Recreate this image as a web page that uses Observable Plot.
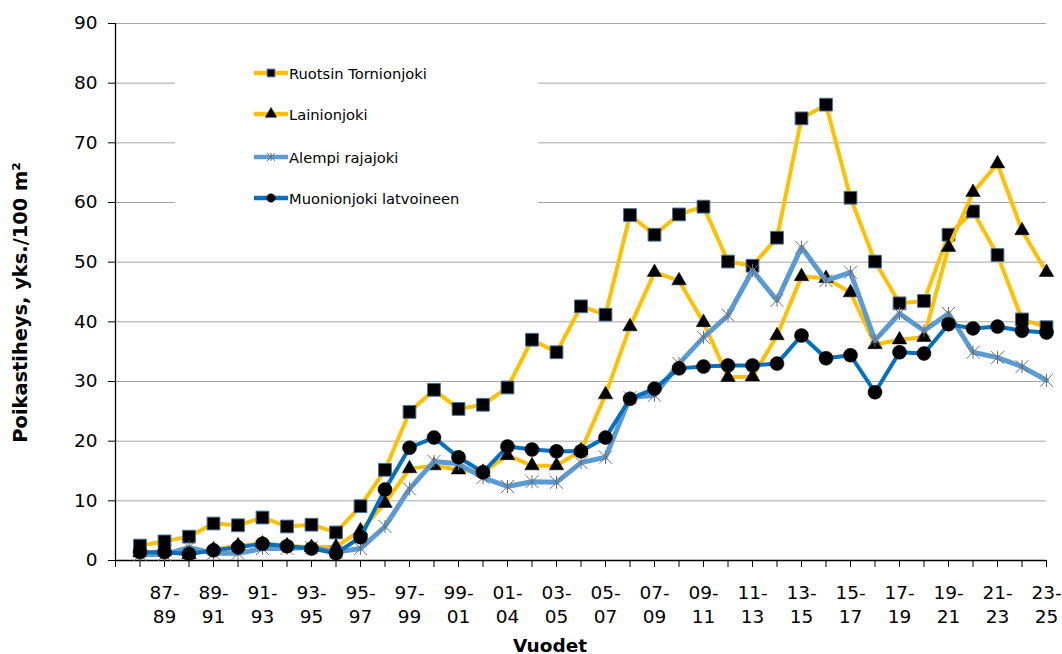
<!DOCTYPE html>
<html><head><meta charset="utf-8">
<script src="https://cdn.jsdelivr.net/npm/d3@7"></script>
<script src="https://cdn.jsdelivr.net/npm/@observablehq/plot@0.6"></script>
<style>
html,body{margin:0;background:#fff;overflow:hidden;}
#wrap{position:relative;width:1062px;height:654px;overflow:hidden;font-family:"DejaVu Sans",Verdana,sans-serif;}
#chart svg{display:block;max-width:none !important;}
#legend{position:absolute;left:175px;top:50px;width:363px;height:175px;background:#fff;}
.item{position:absolute;left:79px;height:20px;display:flex;align-items:center;font-size:14.7px;color:#000;white-space:nowrap;}
.item svg{display:block;margin-right:1px}
</style></head><body><div id="wrap"><div id="chart"></div><div id="legend"></div></div>
<script>
// ---- data ----
const categories = ["86-88","87-89","88-90","89-91","90-92","91-93","92-94","93-95","94-96","95-97","96-98","97-99","98-00","99-01","00-02","01-04","02-04","03-05","04-06","05-07","06-08","07-09","08-10","09-11","10-12","11-13","12-14","13-15","14-16","15-17","16-18","17-19","18-20","19-21","20-22","21-23","22-24","23-25"];
const tickLabels = ["87-89","89-91","91-93","93-95","95-97","97-99","99-01","01-04","03-05","05-07","07-09","09-11","11-13","13-15","15-17","17-19","19-21","21-23","23-25"];
const seriesNames = ["Ruotsin Tornionjoki","Lainionjoki","Alempi rajajoki","Muonionjoki latvoineen"];
const ruotsi = [2.5,3.2,4.0,6.2,5.9,7.2,5.7,6.0,4.7,9.1,15.2,24.9,28.6,25.4,26.1,29.0,37.0,34.9,42.6,41.2,57.9,54.6,58.0,59.3,50.1,49.4,54.1,74.1,76.4,60.8,50.1,43.1,43.5,54.6,58.5,51.2,40.4,39.1];
const lainio = [1.3,1.5,1.0,1.8,2.5,2.8,2.5,2.2,2.3,5.0,9.6,15.4,15.9,15.2,14.8,17.6,15.9,15.9,18.4,27.8,39.2,48.3,46.9,39.9,30.7,30.8,37.7,47.6,47.3,44.9,36.2,37.0,37.4,52.5,61.7,66.5,55.3,48.3];
const alempi = [1.0,1.0,2.2,1.2,1.2,2.0,2.0,2.2,1.4,2.0,5.7,12.0,16.6,16.2,13.9,12.4,13.2,13.1,16.4,17.3,27.3,27.7,33.0,37.4,41.1,48.6,43.6,52.5,46.9,48.3,36.9,41.4,38.5,41.4,34.9,34.0,32.5,30.2];
const muonio = [1.4,1.4,1.1,1.7,2.2,2.8,2.4,2.0,1.2,3.9,11.9,18.9,20.6,17.3,14.8,19.1,18.6,18.3,18.3,20.6,27.1,28.8,32.2,32.5,32.7,32.7,33.0,37.7,33.9,34.4,28.2,34.9,34.7,39.6,38.9,39.2,38.5,38.2];
const yTicks = [0,10,20,30,40,50,60,70,80,90];
const yTitle = "Poikastiheys, yks./100 m²";
const xTitle = "Vuodet";

// ---- styles ----
const star = {draw(ctx, size){const r=Math.sqrt(size/Math.PI);ctx.moveTo(-r,-r);ctx.lineTo(r,r);ctx.moveTo(-r,r);ctx.lineTo(r,-r);ctx.moveTo(0,-r);ctx.lineTo(0,r);}};
const styles = [
  {line:"#FFC000", lw:4, symbol:"square", r:7.2, fill:"#000", stroke:"#41719C", sw:1},
  {line:"#FFC000", lw:4, symbol:"triangle", r:5.4, fill:"#000", stroke:"#000", sw:0.5},
  {line:"#5B9BD5", lw:5, symbol:star, r:6.5, fill:"none", stroke:"#6f6f6f", sw:1},
  {line:"#0070C0", lw:4, symbol:"circle", r:7, fill:"#000", stroke:"#000", sw:0.5}
];
const valuesList = [ruotsi, lainio, alempi, muonio];

const marks = [
  Plot.gridY({ticks: yTicks.slice(1), stroke:"#a6a6a6", strokeOpacity:1}),
  Plot.axisY({ticks: yTicks, tickSize:7, tickPadding:11, label:null}),
  Plot.axisX({tickSize:7, tickPadding:14, label:null, lineHeight:1.3,
    tickFormat: d => tickLabels.includes(d) ? d.replace("-", "-\n") : ""}),
  Plot.ruleY([0], {stroke:"#000", strokeWidth:1.3}),
  Plot.ruleX([""], {stroke:"#000", strokeWidth:1.3}),
  Plot.text([yTitle], {frameAnchor:"left", textAnchor:"middle", lineAnchor:"middle", rotate:-90, dx:-95, dy:10.5, fontWeight:"bold", fontSize:19.4}),
  Plot.text([xTitle], {frameAnchor:"bottom", textAnchor:"middle", lineAnchor:"bottom", dx:-31, dy:91, fontWeight:"bold", fontSize:18.5})
];
valuesList.forEach((vals, k) => {
  const st = styles[k];
  const data = vals.map((v, i) => ({cat: categories[i], v}));
  marks.push(Plot.line(data, {x:"cat", y:"v", stroke:st.line, strokeWidth:st.lw, strokeLinejoin:"round"}));
  marks.push(Plot.dot(data, {x:"cat", y:"v", symbol:st.symbol, r:st.r, fill:st.fill, stroke:st.stroke, strokeWidth:st.sw}));
});

const chart = Plot.plot({
  width:1062, height:654,
  marginLeft:115, marginRight:16, marginTop:23, marginBottom:94,
  style:{fontFamily:'"DejaVu Sans", Verdana, sans-serif', fontSize:"18.5px", color:"#000", background:"#fff"},
  x:{type:"point", domain:["", ...categories], padding:0, round:false},
  y:{domain:[0,90]},
  marks
});
document.getElementById("chart").appendChild(chart);

// ---- legend ----
const legend = document.getElementById("legend");
const tops = [13, 54, 97, 138];
seriesNames.forEach((name, k) => {
  const st = styles[k];
  const item = document.createElement("div");
  item.className = "item";
  item.style.top = tops[k] + "px";
  const ns = "http://www.w3.org/2000/svg";
  const svg = document.createElementNS(ns, "svg");
  svg.setAttribute("width", 34); svg.setAttribute("height", 14);
  const ln = document.createElementNS(ns, "line");
  ln.setAttribute("x1",0); ln.setAttribute("x2",34); ln.setAttribute("y1",7); ln.setAttribute("y2",7);
  ln.setAttribute("stroke", st.line); ln.setAttribute("stroke-width", 4.5);
  svg.appendChild(ln);
  const p = document.createElementNS(ns, "path");
  const sym = k === 0 ? d3.symbolSquare : k === 1 ? d3.symbolTriangle : k === 2 ? star : d3.symbolCircle;
  const sz = k === 0 ? 60 : k === 1 ? 55 : k === 2 ? 50 : 55;
  p.setAttribute("d", d3.symbol(sym, sz)());
  p.setAttribute("transform", "translate(17,7)");
  p.setAttribute("fill", st.fill); p.setAttribute("stroke", st.stroke); p.setAttribute("stroke-width", st.sw);
  svg.appendChild(p);
  item.appendChild(svg);
  const t = document.createElement("span"); t.textContent = name;
  item.appendChild(t);
  legend.appendChild(item);
});
</script></body></html>
